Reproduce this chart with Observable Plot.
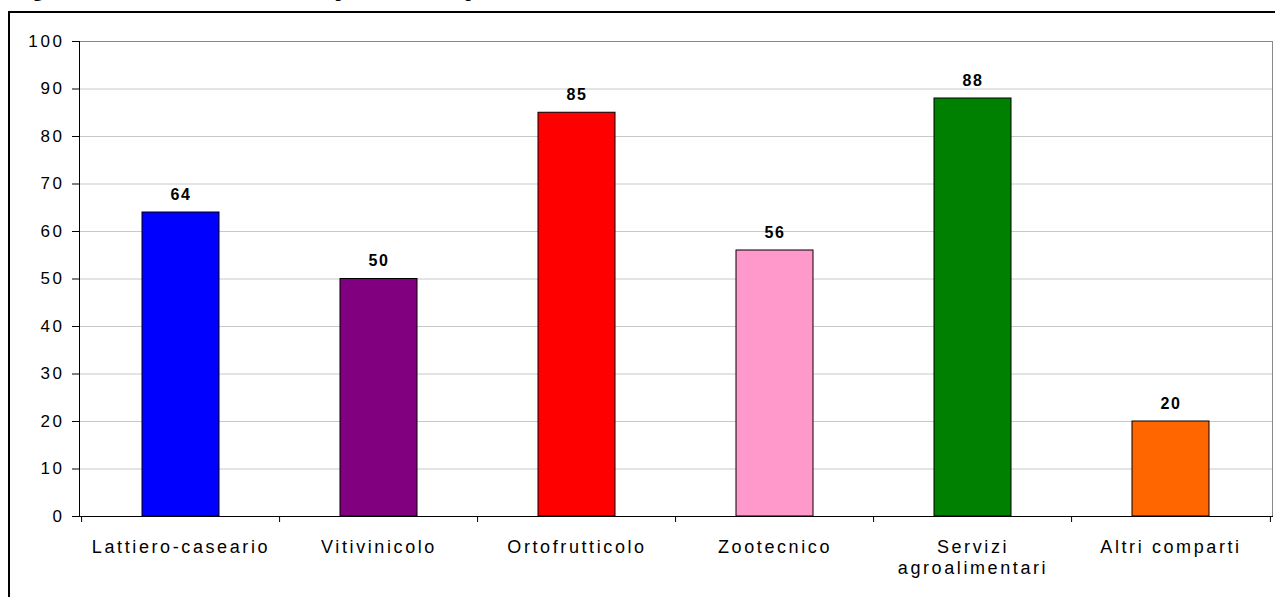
<!DOCTYPE html>
<html>
<head>
<meta charset="utf-8">
<script src="https://cdn.jsdelivr.net/npm/d3@7"></script>
<script src="https://cdn.jsdelivr.net/npm/@observablehq/plot@0.6"></script>
<style>
  html, body { margin: 0; padding: 0; background: #fff; overflow: hidden; }
  #wrap { position: relative; width: 1275px; height: 597px; overflow: hidden; }
  #title { position: absolute; left: 13px; top: -19px; font-family: "Liberation Serif", "Times New Roman", serif; font-weight: bold; font-size: 19px; line-height: 19px; white-space: nowrap; letter-spacing: 1.5px; }
  #frame { position: absolute; left: 8px; top: 11px; width: 1400px; height: 800px; border-left: 2px solid #000; border-top: 2px solid #000; }
  #chart { position: absolute; left: 0; top: 0; }
  #chart svg text { letter-spacing: 2.6px; }
  #chart svg g.vals text { letter-spacing: 1.5px; }
</style>
</head>
<body>
<div id="wrap">
  <div id="title">Figura 3 – Numero totale delle imprese nei comparti</div>
  <div id="frame"></div>
  <div id="chart"></div>
</div>
<script>
const categories = ["Lattiero-caseario", "Vitivinicolo", "Ortofrutticolo", "Zootecnico", "Servizi\nagroalimentari", "Altri comparti"];
const values = [64, 50, 85, 56, 88, 20];
const colors = ["#0000ff", "#800080", "#ff0000", "#ff99cc", "#008000", "#ff6600"];
const yTicks = [0, 10, 20, 30, 40, 50, 60, 70, 80, 90, 100];

const data = categories.map((c, i) => ({cat: c, value: values[i], color: colors[i]}));

const W = 1275, H = 597, ML = 79, MR = 3, MT = 41, MB = 81;
const step = (W - ML - MR) / categories.length;

const chart = Plot.plot({
  width: W, height: H,
  marginLeft: ML, marginRight: MR, marginTop: MT, marginBottom: MB,
  style: {fontFamily: "'Liberation Sans', Arial, sans-serif", background: "transparent", overflow: "visible"},
  x: {domain: categories, paddingInner: 0.61, paddingOuter: 0.305, align: 0.5, axis: null, label: null},
  y: {domain: [0, 100], axis: null, label: null},
  color: {type: "identity"},
  marks: [
    Plot.gridY(yTicks, {stroke: "#c8c8c8", strokeOpacity: 1}),
    Plot.frame({stroke: "#888888"}),
    Plot.barY(data, {x: "cat", y: "value", fill: "color", stroke: "#000", strokeWidth: 1}),
    Plot.text(data, {x: "cat", y: "value", text: d => String(d.value), dy: -13, lineAnchor: "bottom", fontWeight: "bold", fontSize: 16, fill: "#000", className: "vals"}),
    Plot.frame({anchor: "left", stroke: "#000"}),
    Plot.frame({anchor: "bottom", stroke: "#000"}),
    Plot.axisY(yTicks, {tickSize: 7, tickPadding: 8, fontSize: 17, stroke: "#000", fill: "#000", label: null}),
    Plot.axisX(categories, {tickSize: 6, text: null, dx: -step / 2, stroke: "#000", label: null}),
    Plot.axisX([categories[categories.length - 1]], {tickSize: 6, text: null, dx: step / 2, stroke: "#000", label: null}),
    Plot.axisX(categories, {tickSize: 0, tickPadding: 21, fontSize: 18, lineHeight: 1.2, fill: "#000", label: null})
  ]
});
document.getElementById("chart").appendChild(chart);
</script>
</body>
</html>
